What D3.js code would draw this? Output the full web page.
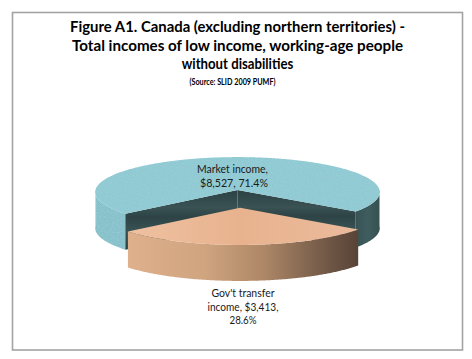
<!DOCTYPE html>
<html><head><meta charset="utf-8">
<script src="https://cdn.jsdelivr.net/npm/d3@7"></script>
<style>html,body{margin:0;padding:0;background:#fff;}svg{display:block;}</style>
</head><body>
<script>
// ---- data ----
const categories = ["Market income", "Gov't transfer income"];
const values = [8527, 3413];
const titleLines = [
  "Figure A1. Canada (excluding northern territories) -",
  "Total incomes of low income, working-age people",
  "without disabilities"
];
const sourceLine = "(Source: SLID 2009 PUMF)";

// ---- layout ----
const W = 472, H = 359;
const cx = 237.5, cy = 190, rx = 142, ry = 35, P = 0.06, depth = 36;
const explode = 0.51;
const frontMidDeg = 178; // pie angle (clockwise from 12 o'clock) of exploded slice centre

const svg = d3.select("body").append("svg").attr("width", W).attr("height", H);
const defs = svg.append("defs");

// gradients
const gSide = defs.append("linearGradient").attr("id", "orSide")
  .attr("gradientUnits", "userSpaceOnUse").attr("x1", 123).attr("x2", 358).attr("y1", 0).attr("y2", 0);
[[0, "#e0b18d"], [0.35, "#cfa47f"], [0.6, "#ad8767"], [0.82, "#7b604c"], [1, "#574337"]]
  .forEach(([o, c]) => gSide.append("stop").attr("offset", o).attr("stop-color", c));
const gTop = defs.append("linearGradient").attr("id", "orTop")
  .attr("gradientUnits", "userSpaceOnUse").attr("x1", 123).attr("x2", 358).attr("y1", 0).attr("y2", 0);
[[0, "#efc2a2"], [0.5, "#e8b28e"], [1, "#ebbb9c"]]
  .forEach(([o, c]) => gTop.append("stop").attr("offset", o).attr("stop-color", c));
const gCut = defs.append("linearGradient").attr("id", "cut").attr("x1", 0).attr("x2", 0).attr("y1", 0).attr("y2", 1);
[[0, "#2c4244"], [0.3, "#3a5254"], [0.45, "#2d4345"], [0.7, "#3a5355"], [1, "#2c4244"]]
  .forEach(([o, c]) => gCut.append("stop").attr("offset", o).attr("stop-color", c));
const gDark = defs.append("linearGradient").attr("id", "darkSide")
  .attr("gradientUnits", "userSpaceOnUse").attr("x1", 350).attr("x2", 380).attr("y1", 0).attr("y2", 0);
[[0, "#344f52"], [0.6, "#3f5c5f"], [1, "#35504f"]]
  .forEach(([o, c]) => gDark.append("stop").attr("offset", o).attr("stop-color", c));

// noise texture
const f = defs.append("filter").attr("id", "noise").attr("x", 0).attr("y", 0).attr("width", "100%").attr("height", "100%");
f.append("feTurbulence").attr("type", "fractalNoise").attr("baseFrequency", 0.8).attr("numOctaves", 2).attr("seed", 4).attr("result", "t");
f.append("feColorMatrix").attr("in", "t").attr("type", "matrix")
  .attr("values", "0 0 0 0 0.36  0 0 0 0 0.63  0 0 0 0 0.7  1.4 0 0 0 -0.56").attr("result", "n");
f.append("feComposite").attr("in", "n").attr("in2", "SourceGraphic").attr("operator", "in").attr("result", "nn");
const fm = f.append("feMerge");
fm.append("feMergeNode").attr("in", "SourceGraphic");
fm.append("feMergeNode").attr("in", "nn");

// frame
svg.append("rect").attr("x", 12.5).attr("y", 12.5).attr("width", 450).attr("height", 337.5)
  .attr("fill", "#fff").attr("stroke", "#a3a3a3").attr("stroke-width", 1.6);

// title
const title = svg.append("g").attr("font-family", "Lato, 'Open Sans', sans-serif")
  .attr("font-weight", "bold").attr("text-anchor", "middle").attr("fill", "#000");
const tY = [32, 50.5, 69], tLen = [335, 331, 111.5];
titleLines.forEach((t, i) => title.append("text").attr("x", cx).attr("y", tY[i]).attr("font-size", 14.6)
  .attr("textLength", tLen[i]).attr("lengthAdjust", "spacingAndGlyphs").text(t));
title.append("text").attr("x", 232.5).attr("y", 84.5).attr("font-size", 9.5)
  .attr("textLength", 86).attr("lengthAdjust", "spacingAndGlyphs").text(sourceLine);

// ---- pie geometry ----
const total = d3.sum(values);
const rad = Math.PI / 180;
const mid = frontMidDeg * rad;
const start = mid - 2 * Math.PI * values[0] / total - Math.PI * values[1] / total;
const arcs = d3.pie().sort(null).startAngle(start).endAngle(start + 2 * Math.PI)(values);
// convert pie angle (cw from 12 o'clock) to screen angle (cw from 3 o'clock)
const scr = a => a - Math.PI / 2;

function pt(a, r, dx, dy, h) {
  const s = Math.sin(a), c = Math.cos(a), k = 1 + P * s * r;
  return [cx + dx + rx * r * c * k, cy + dy + ry * r * s * k + h];
}
function arcPts(a0, a1, dx, dy, h) {
  const n = Math.max(2, Math.ceil(Math.abs(a1 - a0) / (0.5 * rad)));
  return d3.range(n + 1).map(i => pt(a0 + (a1 - a0) * i / n, 1, dx, dy, h));
}
const line = d3.line();
function topPath(a0, a1, dx, dy) {
  return line([pt(0, 0, dx, dy, 0), ...arcPts(a0, a1, dx, dy, 0)]) + "Z";
}
function sidePath(a0, a1, dx, dy) {
  return line([...arcPts(a0, a1, dx, dy, 0), ...arcPts(a1, a0, dx, dy, depth)]) + "Z";
}
function cutPath(a, dx, dy) {
  return line([pt(a, 0, dx, dy, 0), pt(a, 1, dx, dy, 0), pt(a, 1, dx, dy, depth), pt(a, 0, dx, dy, depth)]) + "Z";
}
// visible front part (sin > 0) of an angular range
function frontParts(a0, a1) {
  const parts = [];
  for (let k = -1; k <= 2; k++) {
    const lo = Math.max(a0, k * 2 * Math.PI), hi = Math.min(a1, k * 2 * Math.PI + Math.PI);
    if (hi > lo) parts.push([lo, hi]);
  }
  return parts;
}

const pieG = svg.append("g");

// Market income slice (not exploded)
const m = arcs[0];
const m0 = scr(m.startAngle), m1 = scr(m.endAngle);
frontParts(m0, m1).forEach(([a, b]) => {
  const left = Math.cos((a + b) / 2) < 0;
  pieG.append("path").attr("d", sidePath(a, b, 0, 0))
    .attr("fill", left ? "#86c1ca" : "url(#darkSide)")
    .attr("filter", left ? "url(#noise)" : null);
});
pieG.append("path").attr("d", cutPath(m0, 0, 0)).attr("fill", "url(#cut)");
pieG.append("path").attr("d", cutPath(m1, 0, 0)).attr("fill", "url(#cut)");
pieG.append("path").attr("d", topPath(m0, m1, 0, 0)).attr("fill", "#8fcad3").attr("filter", "url(#noise)");

// Gov't transfer slice (exploded)
const g = arcs[1];
const g0 = scr(g.startAngle), g1 = scr(g.endAngle);
const gm = (g0 + g1) / 2;
const edx = explode * rx * Math.cos(gm), edy = explode * ry * Math.sin(gm);
frontParts(g0, g1).forEach(([a, b]) => {
  pieG.append("path").attr("d", sidePath(a, b, edx, edy)).attr("fill", "url(#orSide)");
});
pieG.append("path").attr("d", topPath(g0, g1, edx, edy)).attr("fill", "url(#orTop)");

// ---- labels ----
const fmtMoney = d3.format("$,");
const fmtPct = d3.format(".1%");
const labels = svg.append("g").attr("font-family", "Lato, 'Open Sans', sans-serif")
  .attr("font-size", 11).attr("text-anchor", "middle").attr("fill", "#1a1a1a");
const mLines = [categories[0] + ",", fmtMoney(values[0]) + ", " + fmtPct(values[0] / total)];
const mx = [232.5, 234], my = [172.8, 186.7], mLen = [71, 68];
mLines.forEach((t, i) => labels.append("text").attr("x", mx[i]).attr("y", my[i])
  .attr("textLength", mLen[i]).attr("lengthAdjust", "spacingAndGlyphs").text(t));
const gLines = ["Gov't transfer", "income, " + fmtMoney(values[1]) + ",", fmtPct(values[1] / total)];
const gy = [297, 310.5, 324], gLen = [63, 71, 27];
gLines.forEach((t, i) => labels.append("text").attr("x", 243).attr("y", gy[i])
  .attr("textLength", gLen[i]).attr("lengthAdjust", "spacingAndGlyphs").text(t));
</script>
</body></html>
